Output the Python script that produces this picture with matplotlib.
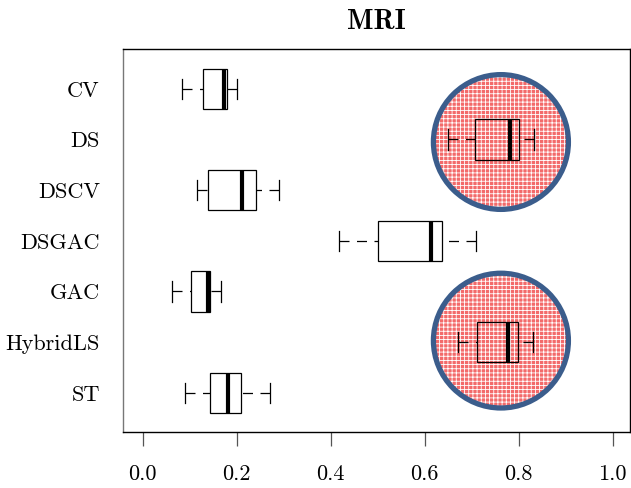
import matplotlib
matplotlib.use("Agg")
import matplotlib.pyplot as plt
from matplotlib.patches import Rectangle, Ellipse

plt.rcParams["font.family"] = ["cmr10", "DejaVu Serif"]
plt.rcParams["axes.formatter.use_mathtext"] = True
plt.rcParams["hatch.linewidth"] = 0.6

# data
methods = ["CV", "DS", "DSCV", "DSGAC", "GAC", "HybridLS", "ST"]
whis_lo = [0.084, 0.650, 0.116, 0.418, 0.063, 0.670, 0.089]
q1 = [0.128, 0.707, 0.139, 0.500, 0.103, 0.711, 0.143]
medians = [0.172, 0.781, 0.212, 0.613, 0.139, 0.778, 0.181]
q3 = [0.179, 0.800, 0.240, 0.637, 0.144, 0.799, 0.209]
whis_hi = [0.201, 0.833, 0.290, 0.709, 0.167, 0.830, 0.270]
highlighted = ["DS", "HybridLS"]
xticks = [0.0, 0.2, 0.4, 0.6, 0.8, 1.0]

W, H = 631, 488
fig = plt.figure(figsize=(W / 100, H / 100), dpi=100)
# axes box in pixels: left 123.4, right 630.1, top 49.3, bottom 432.3
ax = fig.add_axes([123.4 / W, (H - 432.3) / H, (630.1 - 123.4) / W, (432.3 - 49.3) / H])

boxw = 0.8
capw = 0.4
for i, m in enumerate(methods):
    y = i + 1
    ax.add_patch(Rectangle((q1[i], y - boxw / 2), q3[i] - q1[i], boxw,
                           facecolor="none", edgecolor="black", lw=0.9, zorder=3))
    ax.plot([medians[i], medians[i]], [y - boxw / 2, y + boxw / 2],
            color="black", lw=3.0, solid_capstyle="butt", zorder=4)
    # whiskers drawn from the cap toward the box (dash phase starts at cap)
    ax.plot([whis_lo[i], q1[i]], [y, y], color="black", lw=0.9,
            dashes=(8, 6), zorder=3)
    ax.plot([whis_hi[i], q3[i]], [y, y], color="black", lw=0.9,
            dashes=(8, 6), zorder=3)
    for c in (whis_lo[i], whis_hi[i]):
        ax.plot([c, c], [y - capw / 2, y + capw / 2], color="black", lw=0.9, zorder=3)

# highlight circles (round in pixels)
ex = 135 / 470
ey = 135 / 50.75
for m in highlighted:
    i = methods.index(m)
    cy = i + 1 + (0.05 if m == "DS" else -0.03)
    ax.add_patch(Ellipse((0.762, cy), ex, ey, facecolor="#f36a6a",
                         edgecolor="white", lw=0, hatch="++++", zorder=2))
    ax.add_patch(Ellipse((0.762, cy), ex, ey, facecolor="none",
                         edgecolor="#3b5d8c", lw=3.8, zorder=5))

ax.set_xlim(-0.0413, 1.0369)
ax.set_ylim(7.78, 0.22)
ax.set_yticks(range(1, len(methods) + 1), methods)
ax.set_xticks(xticks, [f"{t:.1f}" for t in xticks])
ax.tick_params(axis="y", length=0, pad=17, labelsize=16)
ax.tick_params(axis="x", length=10.4, width=0.9, color="#555555", pad=13, labelsize=16)
for s in ax.spines.values():
    s.set_linewidth(1.0)
ax.spines["left"].set_color("#777777")

fig.text(376 / W, 1 - 22 / H, "MRI", family="cmb10", fontsize=20,
         ha="center", va="center")

fig.savefig("out.png", dpi=100)
